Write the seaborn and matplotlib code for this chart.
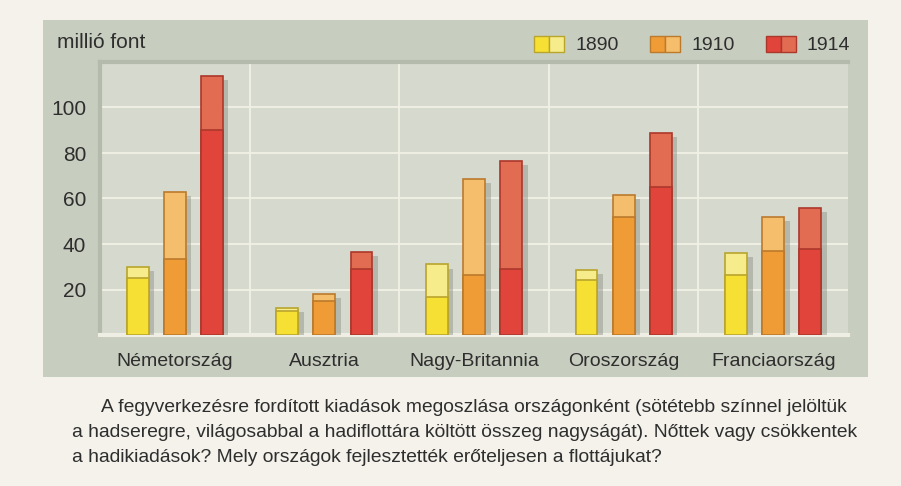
import pandas as pd
import numpy as np
import matplotlib
matplotlib.use("Agg")
import matplotlib.pyplot as plt
import matplotlib.patheffects as pe
from matplotlib.patches import Rectangle, Patch
from matplotlib.legend_handler import HandlerTuple
import seaborn as sns

# data (million pounds); army = darker part, total = army + navy
countries = ["Németország", "Ausztria", "Nagy-Britannia", "Oroszország", "Franciaország"]
years = ["1890", "1910", "1914"]
army_1890 = [25, 10.5, 16.5, 24, 26.5]
total_1890 = [30, 12, 31, 28.5, 36]
army_1910 = [33.5, 15, 26.5, 52, 37]
total_1910 = [63, 18, 68.5, 61.5, 52]
army_1914 = [90, 29, 29, 65, 38]
total_1914 = [114, 36.5, 76.5, 89, 56]

yticks = [20, 40, 60, 80, 100]
caption = [
    "A fegyverkezésre fordított kiadások megoszlása országonként (sötétebb színnel jelöltük",
    "a hadseregre, világosabbal a hadiflottára költött összeg nagyságát). Nőttek vagy csökkentek",
    "a hadikiadások? Mely országok fejlesztették erőteljesen a flottájukat?",
]

df = pd.DataFrame({
    "country": countries * 3,
    "year": sum([[y] * len(countries) for y in years], []),
    "army": army_1890 + army_1910 + army_1914,
    "total": total_1890 + total_1910 + total_1914,
})

dark = ["#F7E034", "#F09C36", "#E0443A"]
light = ["#F6EC8C", "#F5BE6C", "#E26C52"]
edges = ["#B9A52C", "#BC7A2C", "#AC382C"]

sns.set_theme(style="white")
plt.rcParams["font.family"] = ["Liberation Sans", "DejaVu Sans"]
txt = "#2E2E2E"

W, H = 901, 486
fig = plt.figure(figsize=(W / 100, H / 100), dpi=100, facecolor="#F4F2EB")

# grey panel behind the chart
fig.patches.append(Rectangle((43 / W, 1 - 377 / H), 825 / W, 357 / H,
                             transform=fig.transFigure, facecolor="#C7CDBF",
                             edgecolor="none", zorder=-1))

ax = fig.add_axes([100 / W, 1 - 335 / H, 748 / W, 273 / H])
ax.set_zorder(2)
ax.set_facecolor("#D5D9CE")

kw = dict(data=df, x="country", y="total", hue="year", order=countries,
          hue_order=years, width=0.744, gap=0.41, saturation=1, ax=ax, legend=False)
sns.barplot(palette=light, **kw)
kw["y"] = "army"
sns.barplot(palette=dark, **kw)

for i, cont in enumerate(ax.containers):
    k = i % 3
    for bar in cont:
        bar.set_edgecolor(edges[k])
        bar.set_linewidth(1.2)
        if i < 3:
            bar.set_path_effects([pe.SimplePatchShadow(offset=(4, -3), shadow_rgbFace="#8A8E84",
                                                       alpha=0.45), pe.Normal()])
        bar.set_zorder(3)

ax.set_xlim(-0.5, 4.5)
ax.set_ylim(0, 120)
ax.set_yticks(yticks)
ax.set_xticks(np.arange(0.5, 4.5, 1), minor=True)
ax.grid(True, which="major", axis="y", color="#F2F1E6", lw=1.3, zorder=0)
ax.grid(True, which="minor", axis="x", color="#F2F1E6", lw=1.3, zorder=0)
ax.set_axisbelow(True)
ax.tick_params(axis="both", which="both", length=0)
ax.tick_params(axis="y", pad=10, labelsize=15, labelcolor=txt)
ax.tick_params(axis="x", pad=13, labelsize=14, labelcolor=txt)
ax.set_xlabel("")
ax.set_ylabel("")
for name, s in ax.spines.items():
    s.set_linewidth(3)
    s.set_color("#EEEEE4" if name == "bottom" else "#B4BAAC")
ax.spines["right"].set_visible(False)

fig.text(57 / W, 1 - 43 / H, "millió font", fontsize=15, color=txt, va="center")

handles = [(Patch(facecolor=dark[k], edgecolor=edges[k]),
            Patch(facecolor=light[k], edgecolor=edges[k])) for k in range(3)]
fig.legend(handles, years, handler_map={tuple: HandlerTuple(ndivide=None, pad=0)},
           loc="center right", bbox_to_anchor=(860 / W, 1 - 45 / H), ncol=3,
           frameon=False, fontsize=14, labelcolor=txt, handlelength=1.55,
           handleheight=0.9, handletextpad=0.57, columnspacing=1.6, borderpad=0)

# caption, sized so the first two lines span about the same width as in the book
texts = []
for j, line in enumerate(caption):
    x0 = 101 if j == 0 else 72
    texts.append(fig.text(x0 / W, 1 - (412 + 25 * j) / H, line, fontsize=13,
                          color=txt, va="baseline"))
r = fig.canvas.get_renderer()
w01 = texts[0].get_window_extent(r).width + texts[1].get_window_extent(r).width
for t in texts:
    t.set_fontsize(13 * (761 + 771) / w01)

fig.savefig("out.png", dpi=100, facecolor=fig.get_facecolor())
